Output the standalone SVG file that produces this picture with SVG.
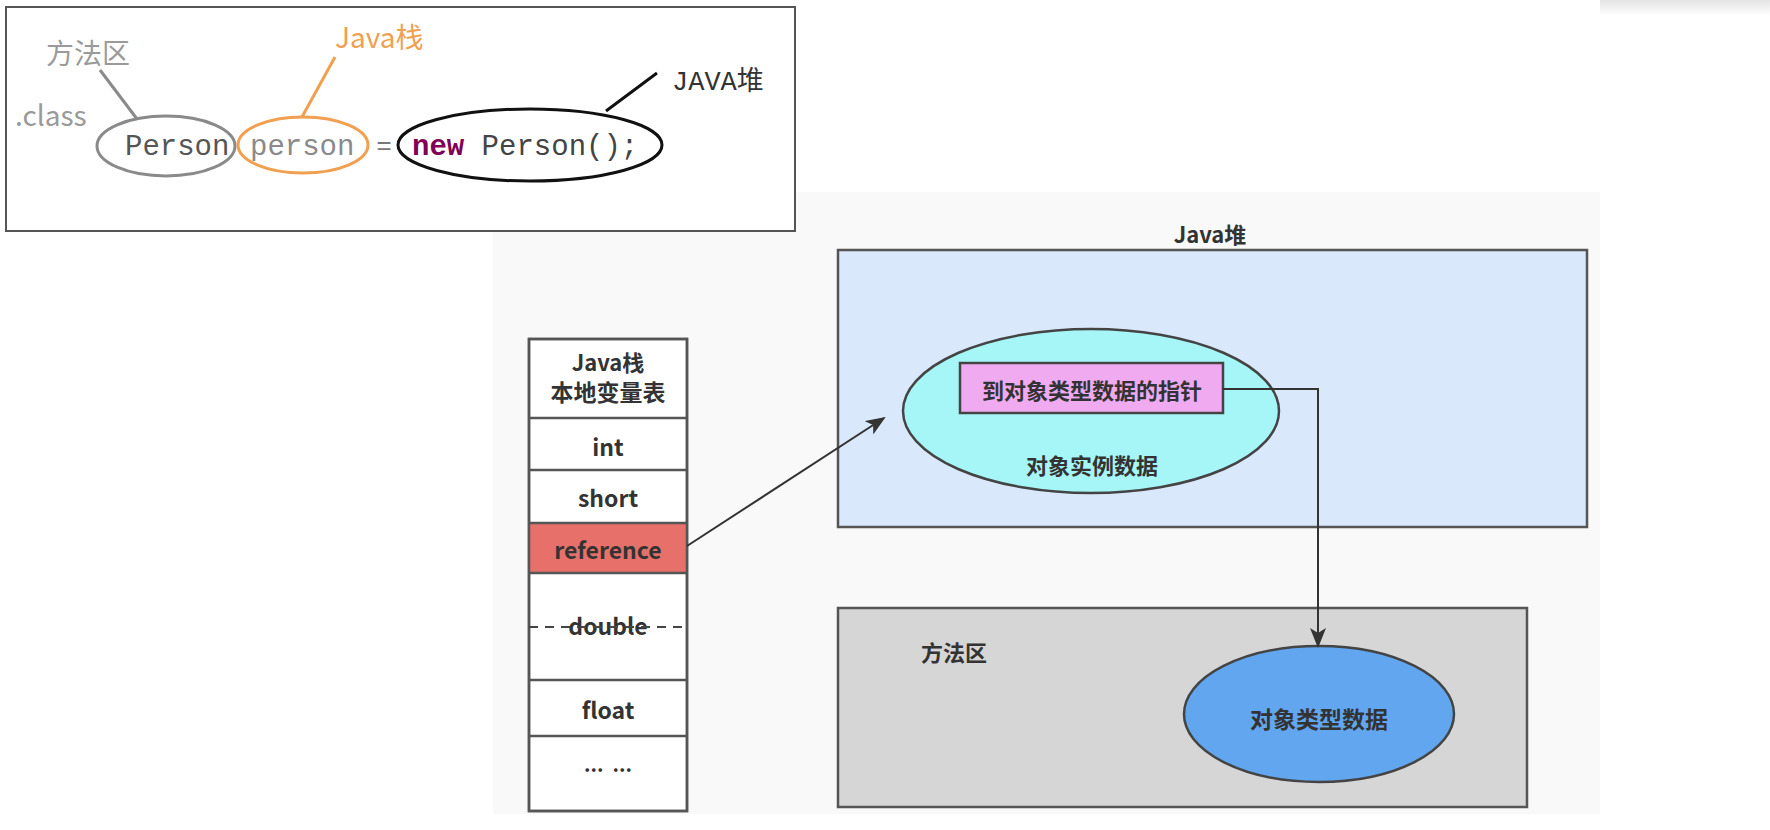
<svg xmlns="http://www.w3.org/2000/svg" width="1770" height="830" viewBox="0 0 1770 830">
<defs>
<linearGradient id="topbar" x1="0" y1="0" x2="0" y2="1">
<stop offset="0" stop-color="#e4e4e4"/>
<stop offset="1" stop-color="#ffffff"/>
</linearGradient>
<marker id="arrowBig" markerWidth="20" markerHeight="16" refX="18" refY="8" orient="auto" markerUnits="userSpaceOnUse" viewBox="0 0 20 16">
<path d="M0,0 L20,8 L0,16 L5,8 Z" fill="#333"/>
</marker>
</defs>
<style>
.box{stroke:#555;stroke-width:2.5}
.lbl{font-family:"Noto Sans CJK SC","Noto Sans",sans-serif;font-weight:bold;fill:#333;text-anchor:middle}
.code{font-family:"Liberation Mono","DejaVu Sans Mono",monospace;font-size:29px}
.ann{font-family:"Noto Sans CJK SC","Noto Sans",sans-serif;font-size:28px}
.conn{fill:none;stroke:#333;stroke-width:2}
</style>
<rect width="1770" height="830" fill="#ffffff"/>
<rect x="1600" y="0" width="170" height="16" fill="url(#topbar)"/>
<rect x="493" y="192" width="1107" height="622" fill="#f9f9f9"/>

<g id="code-panel">
<rect x="6" y="7" width="789" height="224" fill="#ffffff" stroke="#555" stroke-width="2"/>
<text class="ann" x="46" y="64" fill="#9a9a9a">方法区</text>
<text class="ann" x="15" y="126" fill="#9a9a9a">.class</text>
<text class="ann" x="335" y="48" fill="#f0a050">Java栈</text>
<text x="672" y="90" font-family="Liberation Mono, monospace" font-size="27" fill="#333">JAVA<tspan font-family="Noto Sans CJK SC, sans-serif">堆</tspan></text>
<ellipse cx="166" cy="146" rx="69" ry="30" fill="none" stroke="#8a8a8a" stroke-width="3"/>
<ellipse cx="303" cy="145" rx="65" ry="28" fill="none" stroke="#f0a050" stroke-width="3"/>
<ellipse cx="530" cy="145" rx="132" ry="36" fill="none" stroke="#111" stroke-width="3"/>
<text class="code" x="125" y="155" fill="#555">Person</text>
<text class="code" x="250" y="155" fill="#8a8a8a">person</text>
<text x="384" y="154" font-family="Liberation Sans, sans-serif" font-size="26" fill="#777" text-anchor="middle">=</text>
<text class="code" x="412" y="155" fill="#444"><tspan fill="#7f0055" font-weight="bold">new</tspan> Person();</text>
</g>

<g id="java-heap">
<text class="lbl" x="1210" y="243" font-size="22">Java堆</text>
<rect class="box" x="838" y="250" width="749" height="277" fill="#dae8fc"/>
</g>

<g id="instance-data">
<ellipse cx="1091" cy="411" rx="188" ry="82" fill="#a6f6f7" stroke="#444" stroke-width="2.5"/>
<text class="lbl" x="1092" y="474" font-size="22">对象实例数据</text>
</g>

<g id="type-pointer">
<rect x="960" y="363" width="263" height="50" fill="#f0aaf0" stroke="#444" stroke-width="2.5"/>
<text class="lbl" x="1092" y="399" font-size="22">到对象类型数据的指针</text>
</g>

<g id="method-area">
<rect class="box" x="838" y="608" width="689" height="199" fill="#d6d6d6"/>
<text class="lbl" x="954" y="661" font-size="22">方法区</text>
</g>

<g id="type-data">
<ellipse cx="1319" cy="714" rx="135" ry="68" fill="#62a6f0" stroke="#444" stroke-width="2.5"/>
<text class="lbl" x="1319" y="728" font-size="23">对象类型数据</text>
</g>

<g id="java-stack">
<rect x="529" y="339" width="158" height="472" fill="#ffffff" stroke="#555" stroke-width="2.5"/>
<rect x="529" y="523" width="158" height="50" fill="#e8706a"/>
<g stroke="#555" stroke-width="2.5">
<line x1="529" y1="418" x2="687" y2="418"/>
<line x1="529" y1="470" x2="687" y2="470"/>
<line x1="529" y1="523" x2="687" y2="523"/>
<line x1="529" y1="573" x2="687" y2="573"/>
<line x1="529" y1="680" x2="687" y2="680"/>
<line x1="529" y1="736" x2="687" y2="736"/>
</g>
<rect x="529" y="339" width="158" height="472" fill="none" stroke="#555" stroke-width="2.5"/>
<text class="lbl" x="608" y="371" font-size="22">Java栈</text>
<text class="lbl" x="608" y="401" font-size="23">本地变量表</text>
<text class="lbl" x="608" y="456" font-size="23">int</text>
<text class="lbl" x="608" y="507" font-size="23">short</text>
<text class="lbl" x="608" y="559" font-size="23">reference</text>
<text class="lbl" x="608" y="635" font-size="23">double</text>
<line x1="529" y1="627" x2="687" y2="627" stroke="#444" stroke-width="2" stroke-dasharray="9,7"/>
<text class="lbl" x="608" y="719" font-size="23">float</text>
<text class="lbl" x="608" y="772" font-size="20" xml:space="preserve">...  ...</text>
</g>

<g id="connectors">
<line x1="100" y1="70" x2="137" y2="119" stroke="#8a8a8a" stroke-width="3"/>
<line x1="335" y1="57" x2="302" y2="117" stroke="#f0a050" stroke-width="3"/>
<line x1="657" y1="73" x2="606" y2="111" stroke="#111" stroke-width="3"/>
<line class="conn" x1="687" y1="546" x2="884" y2="418" marker-end="url(#arrowBig)"/>
<polyline class="conn" points="1223,389 1318,389 1318,646" marker-end="url(#arrowBig)"/>
</g>
</svg>
